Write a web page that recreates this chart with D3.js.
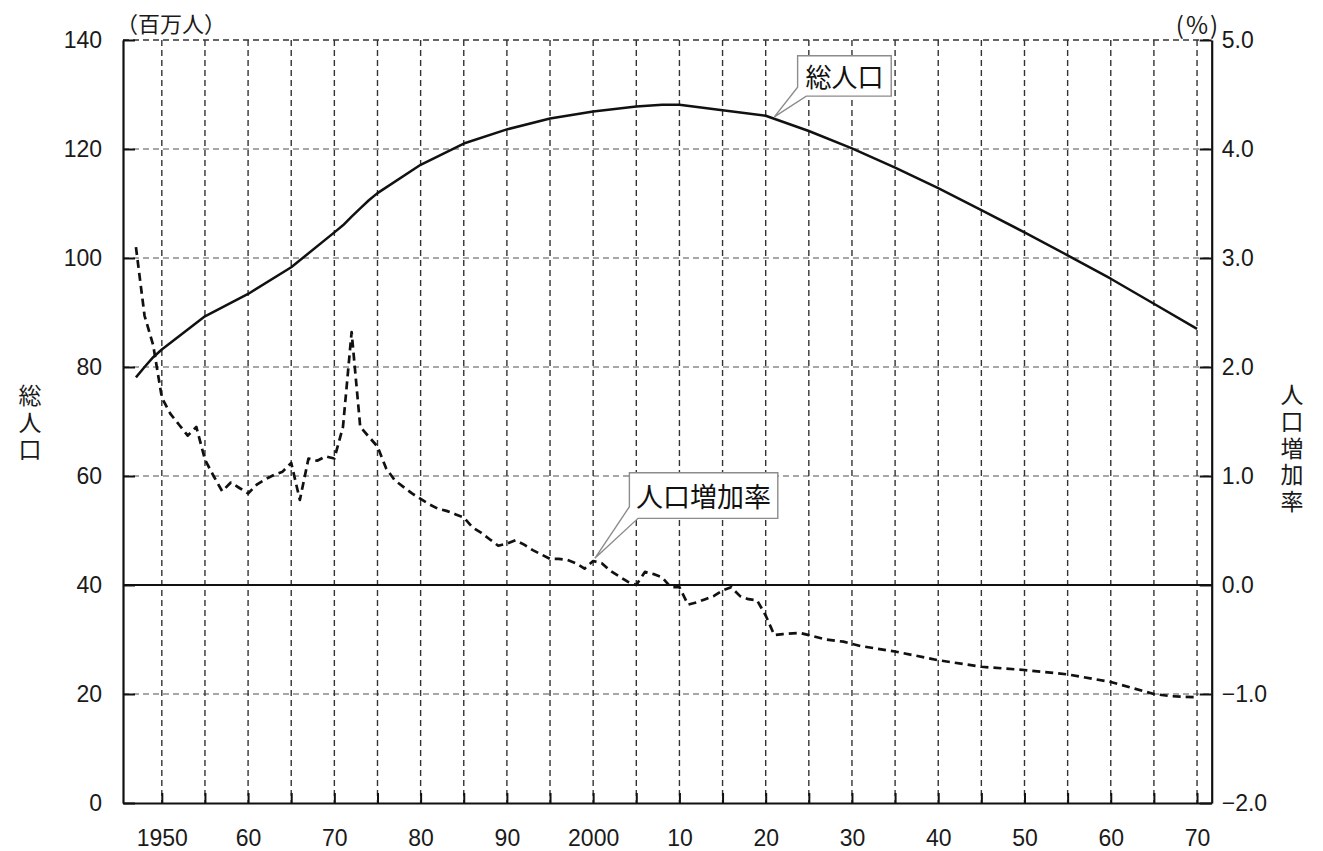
<!DOCTYPE html>
<html>
<head>
<meta charset="utf-8">
<script src="https://cdn.jsdelivr.net/npm/d3@7"></script>
<style>
  html, body { margin: 0; padding: 0; background: #fff; }
  svg { display: block; }
  .num { font-family: "Liberation Sans", Arial, sans-serif; }
  .jp { font-family: "Noto Sans CJK JP", sans-serif; }
</style>
</head>
<body>
<svg id="chart" width="1323" height="851"></svg>
<script>
// ---- data ----
const popYears  = [1947,1948,1949,1950,1955,1960,1965,1970,1971,1972,1973,1974,1975,1980,1985,1990,1995,2000,2005,2008,2010,2015,2020,2025,2030,2035,2040,2045,2050,2055,2060,2065,2070];
const popValues = [78.1,80.0,81.8,83.2,89.3,93.4,98.3,104.7,106.0,107.6,109.1,110.6,111.9,117.1,121.0,123.6,125.6,126.9,127.8,128.1,128.1,127.1,126.1,123.3,120.1,116.6,112.8,108.8,104.7,100.5,96.2,91.6,87.0];

const rateYears  = [1947,1948,1949,1950,1951,1952,1953,1954,1955,1956,1957,1958,1959,1960,1961,1962,1963,1964,1965,1966,1967,1968,1969,1970,1971,1972,1973,1974,1975,1976,1977,1978,1979,1980,1981,1982,1983,1984,1985,1986,1987,1988,1989,1990,1991,1992,1993,1994,1995,1996,1997,1998,1999,2000,2001,2002,2003,2004,2005,2006,2007,2008,2009,2010,2011,2012,2013,2014,2015,2016,2017,2018,2019,2020,2021,2022,2024,2025,2027,2029,2031,2035,2040,2045,2050,2055,2060,2065,2067,2070];
const rateValues = [3.10,2.47,2.20,1.72,1.57,1.47,1.37,1.45,1.15,1.00,0.86,0.94,0.89,0.84,0.92,0.97,1.01,1.04,1.12,0.78,1.16,1.14,1.18,1.16,1.45,2.32,1.45,1.36,1.27,1.07,0.96,0.90,0.84,0.79,0.74,0.70,0.68,0.65,0.62,0.53,0.48,0.42,0.36,0.38,0.41,0.37,0.32,0.28,0.24,0.24,0.23,0.20,0.15,0.22,0.20,0.13,0.08,0.03,0.00,0.12,0.10,0.07,-0.02,-0.02,-0.18,-0.16,-0.13,-0.10,-0.05,-0.02,-0.10,-0.13,-0.14,-0.28,-0.46,-0.45,-0.44,-0.46,-0.50,-0.52,-0.56,-0.61,-0.69,-0.75,-0.78,-0.82,-0.89,-1.00,-1.02,-1.03];

const gridYears   = [1950,1955,1960,1965,1970,1975,1980,1985,1990,1995,2000,2005,2010,2015,2020,2025,2030,2035,2040,2045,2050,2055,2060,2065,2070];
const labelYears  = [1950,1960,1970,1980,1990,2000,2010,2020,2030,2040,2050,2060,2070];
const yearLabels  = ["1950","60","70","80","90","2000","10","20","30","40","50","60","70"];
const popTicks    = [0,20,40,60,80,100,120,140];
const rateTicks   = [-2,-1,0,1,2,3,4,5];

const leftUnit  = "（百万人）";
const rightUnit = "(%)";
const leftTitle = "総人口";
const rightTitle = "人口増加率";
const popLabel  = "総人口";
const rateLabel = "人口増加率";

// ---- layout ----
const L = 123, R = 1211.7, T = 40, B = 803;
const svg = d3.select("#chart");

const x  = d3.scaleLinear().domain([1945.5, 2071.7]).range([L, R]);
const yP = d3.scaleLinear().domain([0, 140]).range([B, T]);
const yR = d3.scaleLinear().domain([-2, 5]).range([B, T]);

// grid: horizontal
svg.append("g").selectAll("line").data(popTicks.filter(v => v !== 0 && v !== 40 && v !== 140))
  .join("line")
  .attr("x1", L).attr("x2", R)
  .attr("y1", d => yP(d)).attr("y2", d => yP(d))
  .attr("stroke", "#8a8a8a").attr("stroke-width", 1.6).attr("stroke-dasharray", "6,4");

// grid: vertical
svg.append("g").selectAll("line").data(gridYears)
  .join("line")
  .attr("x1", d => x(d)).attr("x2", d => x(d))
  .attr("y1", T).attr("y2", B)
  .attr("stroke", "#333").attr("stroke-width", 1.4).attr("stroke-dasharray", "6,4");

// top dashed border
svg.append("line").attr("x1", L).attr("x2", R).attr("y1", T).attr("y2", T)
  .attr("stroke", "#333").attr("stroke-width", 1.6).attr("stroke-dasharray", "6,4");

// zero line (rate 0 / pop 40)
svg.append("line").attr("x1", L).attr("x2", R).attr("y1", yR(0)).attr("y2", yR(0))
  .attr("stroke", "#111").attr("stroke-width", 2.2);

// axes
const axB = d3.axisBottom(x).tickValues(gridYears).tickSize(-10).tickSizeOuter(0).tickPadding(27)
  .tickFormat(d => { const i = labelYears.indexOf(d); return i >= 0 ? yearLabels[i] : ""; });
const gB = svg.append("g").attr("transform", `translate(0,${B})`).call(axB);

const axL = d3.axisLeft(yP).tickValues(popTicks).tickSize(-12).tickSizeOuter(0).tickPadding(21)
  .tickFormat(d => String(d));
const gL = svg.append("g").attr("transform", `translate(${L},0)`).call(axL);

const axR = d3.axisRight(yR).tickValues(rateTicks).tickSize(-12).tickSizeOuter(0).tickPadding(10)
  .tickFormat(d3.format(".1f"));
const gR = svg.append("g").attr("transform", `translate(${R},0)`).call(axR);

[gB, gL, gR].forEach(g => {
  g.select(".domain").attr("stroke", "#111").attr("stroke-width", 2.2);
  g.selectAll(".tick line").attr("stroke", "#111").attr("stroke-width", 2);
  g.selectAll(".tick text").attr("class", "num").attr("fill", "#1a1a1a").style("font-size", "23px");
});

// lines
const popLine = d3.line().x((d, i) => x(popYears[i])).y(d => yP(d));
svg.append("path").datum(popValues).attr("d", popLine)
  .attr("fill", "none").attr("stroke", "#111").attr("stroke-width", 2.5).attr("stroke-linejoin", "round");

const rateLine = d3.line().x((d, i) => x(rateYears[i])).y(d => yR(d));
svg.append("path").datum(rateValues).attr("d", rateLine)
  .attr("fill", "none").attr("stroke", "#111").attr("stroke-width", 2.7)
  .attr("stroke-dasharray", "8,5").attr("stroke-linejoin", "round");

// callouts
function callout(text, tipX, tipY, bx, by, bw, bh, attachLeftY, attachBottomX, fs) {
  const p = d3.path();
  p.moveTo(bx, by);
  p.lineTo(bx + bw, by);
  p.lineTo(bx + bw, by + bh);
  p.lineTo(attachBottomX, by + bh);
  p.lineTo(tipX, tipY);
  p.lineTo(bx, attachLeftY);
  p.closePath();
  svg.append("path").attr("d", p.toString())
    .attr("fill", "#fff").attr("stroke", "#8c8c8c").attr("stroke-width", 1.4);
  svg.append("text").attr("class", "jp")
    .attr("x", bx + bw / 2).attr("y", by + bh / 2)
    .attr("text-anchor", "middle").attr("dominant-baseline", "central")
    .style("font-size", fs + "px").attr("fill", "#111").text(text);
}
// 総人口 callout — tip on the population line at 2021
callout(popLabel, x(2021), yP(125.9), x(2023.7), yP(137.1), 93.6, 40.3, yP(137.1) + 31.5, x(2024.7), 26);
// 人口増加率 callout — tip on the rate line at 2000
callout(rateLabel, x(2000.2), yR(0.245), x(2004.2), yR(1.03), 148.4, 45.6, yR(1.03) + 34, x(2005.2), 27);

// units
svg.append("text").attr("class", "jp").attr("x", 116).attr("y", 22)
  .attr("dominant-baseline", "central").style("font-size", "22px").attr("fill", "#1a1a1a").text(leftUnit);
svg.append("text").attr("class", "jp").attr("x", 1198).attr("y", 23)
  .attr("text-anchor", "middle").attr("dominant-baseline", "central")
  .style("font-size", "24px").style("letter-spacing", "2px").attr("fill", "#1a1a1a").text(rightUnit);

// vertical axis titles (single vertical text each)
svg.append("text").attr("class", "jp")
  .attr("x", 30).attr("y", 384)
  .style("writing-mode", "vertical-rl").style("text-orientation", "upright")
  .style("font-size", "23px").style("letter-spacing", "4px").attr("fill", "#1a1a1a")
  .text(leftTitle);
svg.append("text").attr("class", "jp")
  .attr("x", 1292).attr("y", 383)
  .style("writing-mode", "vertical-rl").style("text-orientation", "upright")
  .style("font-size", "23px").style("letter-spacing", "3.7px").attr("fill", "#1a1a1a")
  .text(rightTitle);
</script>
</body>
</html>
